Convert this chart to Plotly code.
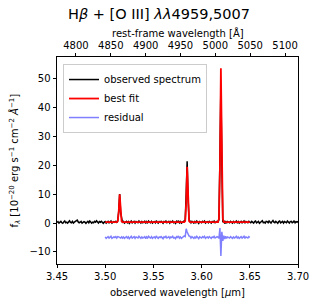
import plotly.graph_objects as go

# ---------------- data ----------------
REDSHIFT = 6.2285            # z used for rest-frame axis
WAVE_START_OBS = 3.450       # first pixel of observed spectrum [um]
WAVE_START_FIT = 3.500       # first pixel of fit / residual [um]
PIX_STEP = 0.001             # pixel step [um]

observed_flux = [
    # 3.450 - 3.499
    0.2, 0.5, 0.0, 0.3, 0.6, 0.1, -0.1, 0.4, 0.7, 0.1,
    0.3, 0.0, 0.5, 0.8, 0.2, 0.1, 0.6, 0.0, 0.3, 0.5,
    0.7, 1.0, 0.4, 0.1, 0.3, 0.6, 0.0, 0.2, 0.5, 0.3,
    -0.1, 0.3, 0.6, 0.1, 0.7, 0.4, 0.0, 0.3, 0.1, 0.6,
    0.3, 0.8, 0.1, 0.0, 0.5, 0.3, 0.6, 0.1, -0.1, 0.3,
    # 3.500 - 3.650
    0.5, 0.0, 0.3, 0.6, 0.1, 0.3, 0.7, 0.0, 0.2, 0.5,
    0.3, 0.6, 0.1, 0.9, 4.0, 10.1, 3.6, 0.8, 0.1, 0.5,
    0.0, 0.3, 0.6, 0.1, 0.5, -0.1, 0.3, 0.7, 0.1, 0.3,
    0.6, 0.0, 0.5, 0.3, 0.1, 0.7, 0.3, 0.0, 0.5, 0.1,
    0.3, 0.6, -0.1, 0.5, 0.1, 0.7, 0.3, 0.1, 0.6, 0.0,
    0.3, 0.5, 0.1, 0.8, 0.3, 0.0, 0.5, 0.3, 0.6, 0.1,
    -0.1, 0.5, 0.3, 0.7, 0.1, 0.3, 0.6, 0.0, 0.5, 0.3,
    0.7, 0.1, 0.3, -0.1, 0.6, 0.3, 0.8, 0.1, 0.5, 0.0,
    0.3, 0.6, 0.8, 1.0, 10.0, 21.4, 8.2, 1.2, 0.7, 0.1,
    0.6, 0.3, 0.0, 0.5, 0.1, 0.7, 0.3, -0.1, 0.5, 0.3,
    0.1, 0.6, 0.3, 0.7, 0.0, 0.3, 0.5, 0.1, 0.6, 0.3,
    0.0, 0.5, 0.3, 0.7, 0.1, 0.3, 0.6, 0.4, 1.2, 22.3,
    47.3, 21.0, 0.3, 0.9, -0.2, 0.7, 0.0, 0.5, 0.3, 0.1,
    0.6, 0.3, 0.0, 0.5, 0.1, 0.3, 0.7, 0.1, 0.5, 0.0,
    0.3, 0.6, 0.1, 0.3, 0.7, 0.0, 0.5, 0.3, 0.1, 0.6, 0.3,
    # 3.651 - 3.700
    0.1, 0.6, 0.3, 0.0, 0.5, 0.7, 0.1, 0.3, 0.6, -0.1,
    0.3, 0.5, 0.8, 0.1, 0.3, 0.0, 0.6, 0.5, 0.1, 0.7,
    0.3, 0.0, 0.5, 0.9, 0.3, 0.1, 0.6, 0.3, -0.1, 0.5,
    0.7, 0.1, 0.3, 0.6, 0.0, 0.5, 0.3, 0.1, 0.7, 0.3,
    0.0, 0.5, 0.6, 0.1, 0.3, 0.8, 0.1, 0.5, 0.3, 0.6,
]

best_fit_flux = [
    0.3, 0.3, 0.3, 0.3, 0.3, 0.3, 0.3, 0.3, 0.3, 0.3,
    0.3, 0.3, 0.3, 0.6, 3.8, 10.0, 3.8, 0.6, 0.3, 0.3,
    0.3, 0.3, 0.3, 0.3, 0.3, 0.3, 0.3, 0.3, 0.3, 0.3,
    0.3, 0.3, 0.3, 0.3, 0.3, 0.3, 0.3, 0.3, 0.3, 0.3,
    0.3, 0.3, 0.3, 0.3, 0.3, 0.3, 0.3, 0.3, 0.3, 0.3,
    0.3, 0.3, 0.3, 0.3, 0.3, 0.3, 0.3, 0.3, 0.3, 0.3,
    0.3, 0.3, 0.3, 0.3, 0.3, 0.3, 0.3, 0.3, 0.3, 0.3,
    0.3, 0.3, 0.3, 0.3, 0.3, 0.3, 0.3, 0.3, 0.3, 0.3,
    0.3, 0.3, 0.3, 0.7, 7.0, 19.5, 7.0, 0.7, 0.3, 0.3,
    0.3, 0.3, 0.3, 0.3, 0.3, 0.3, 0.3, 0.3, 0.3, 0.3,
    0.3, 0.3, 0.3, 0.3, 0.3, 0.3, 0.3, 0.3, 0.3, 0.3,
    0.3, 0.3, 0.3, 0.3, 0.3, 0.3, 0.3, 0.3, 1.5, 19.0,
    53.7, 19.0, 1.5, 0.3, 0.3, 0.3, 0.3, 0.3, 0.3, 0.3,
    0.3, 0.3, 0.3, 0.3, 0.3, 0.3, 0.3, 0.3, 0.3, 0.3,
    0.3, 0.3, 0.3, 0.3, 0.3, 0.3, 0.3, 0.3, 0.3, 0.3, 0.3,
]

RESIDUAL_OFFSET = -5.0
X_RANGE = [3.45, 3.70]
Y_RANGE = [-14.2, 57.6]
x_tickvals = [3.45, 3.50, 3.55, 3.60, 3.65, 3.70]
x_ticktext = ["3.45", "3.50", "3.55", "3.60", "3.65", "3.70"]
y_tickvals = [-10, 0, 10, 20, 30, 40, 50]
y_ticktext = ["\u221210", "0", "10", "20", "30", "40", "50"]
rest_tickvals = [4800, 4850, 4900, 4950, 5000, 5050, 5100]

# residual = observed - fit in the fit window
fit_offset = round((WAVE_START_FIT - WAVE_START_OBS) / PIX_STEP)
residual_flux = [observed_flux[fit_offset + k] - best_fit_flux[k]
                 for k in range(len(best_fit_flux))]

rest_range = [X_RANGE[0] * 1e4 / (1 + REDSHIFT), X_RANGE[1] * 1e4 / (1 + REDSHIFT)]

# ---------------- figure ----------------
FONT = "DejaVu Sans"
W, H = 318, 307
ML, MR, MT, MB = 57, 20, 57, 43

fig = go.Figure()

fig.add_trace(go.Scatter(
    x0=WAVE_START_OBS, dx=PIX_STEP, y=observed_flux, mode="lines",
    line=dict(color="black", width=1.5),
    name="observed spectrum"))
fig.add_trace(go.Scatter(
    x0=WAVE_START_FIT, dx=PIX_STEP, y=best_fit_flux, mode="lines",
    line=dict(color="red", width=1.8),
    name="best fit"))
fig.add_trace(go.Scatter(
    x0=WAVE_START_FIT, dx=PIX_STEP, y=[r + RESIDUAL_OFFSET for r in residual_flux],
    mode="lines", line=dict(color="rgba(0,0,255,0.5)", width=1.5),
    name="residual"))
# invisible trace anchoring the rest-frame axis
fig.add_trace(go.Scatter(
    x=rest_range, y=[0, 0], xaxis="x2", mode="lines",
    line=dict(color="rgba(0,0,0,0)"), showlegend=False, hoverinfo="skip"))

axis_common = dict(showline=True, linecolor="black", linewidth=0.8,
                   ticks="outside", ticklen=3.5, tickwidth=0.8, tickcolor="black",
                   showgrid=False, zeroline=False, automargin=False,
                   tickfont=dict(family=FONT, size=10, color="black"))

fig.update_layout(
    width=W, height=H,
    margin=dict(l=ML, r=MR, t=MT, b=MB),
    paper_bgcolor="white", plot_bgcolor="white",
    font=dict(family=FONT, size=10, color="black"),
    title=dict(text="H<i>β</i> + [O III] <i>λλ</i>4959,5007",
               x=0.5, xref="container", y=1 - 14 / H, yref="container",
               xanchor="center", yanchor="middle",
               font=dict(family=FONT, size=14.5, color="black")),
    xaxis=dict(range=X_RANGE, tickvals=x_tickvals, ticktext=x_ticktext,
               mirror=False, **axis_common),
    xaxis2=dict(range=rest_range, tickvals=rest_tickvals, overlaying="x",
                side="top", anchor="y", **axis_common),
    yaxis=dict(range=Y_RANGE, tickvals=y_tickvals, ticktext=y_ticktext,
               mirror=True, **axis_common),
    legend=dict(x=0.025, y=0.966, xanchor="left", yanchor="top",
                bgcolor="rgba(255,255,255,0.8)", bordercolor="#cccccc", borderwidth=1,
                font=dict(family=FONT, size=10, color="black"),
                itemwidth=30, tracegroupgap=0),
    showlegend=True,
    annotations=[
        dict(text="observed wavelength [<i>μ</i>m]", xref="paper", yref="paper",
             x=0.5, y=-(292 - (H - MB)) / (H - MT - MB), xanchor="center", yanchor="middle",
             showarrow=False, font=dict(family=FONT, size=10, color="black")),
        dict(text="rest-frame wavelength [Å]", xref="paper", yref="paper",
             x=0.5, y=1 + (MT - 33) / (H - MT - MB), xanchor="center", yanchor="middle",
             showarrow=False, font=dict(family=FONT, size=10, color="black")),
        dict(text="f<sub><i>λ</i></sub> [10<sup>−20</sup> erg s<sup>−1</sup> cm<sup>−2</sup> <i>Å</i><sup>−1</sup>]",
             xref="paper", yref="paper", textangle=-90,
             x=-(ML - 14) / (W - ML - MR), y=0.5, xanchor="center", yanchor="middle",
             showarrow=False, font=dict(family=FONT, size=10, color="black")),
    ],
)

fig.write_html("out.html", config={"displayModeBar": False},
               post_script="document.body.style.margin='0';document.body.style.overflow='hidden';")
